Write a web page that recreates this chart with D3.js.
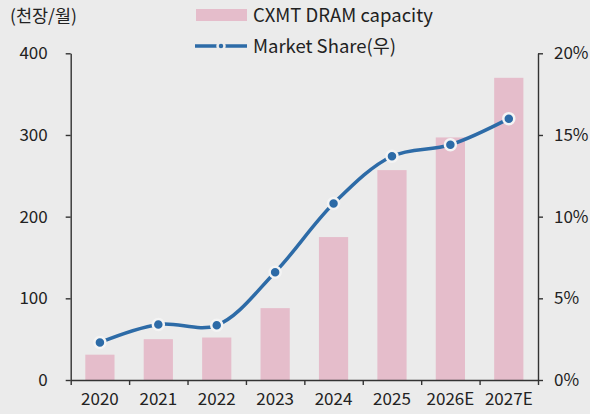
<!DOCTYPE html>
<html>
<head>
<meta charset="utf-8">
<script src="https://cdn.jsdelivr.net/npm/d3@7"></script>
<style>
	body { margin: 0; background: #ebebeb; }
	svg { display: block; font-family: "Noto Sans CJK KR", "Noto Sans", sans-serif; }
</style>
</head>
<body>
<div id="chart"></div>
<script>
const years = ['2020', '2021', '2022', '2023', '2024', '2025', '2026E', '2027E'];
const capacity = [31, 50, 52, 88, 175, 257, 297, 370];
const marketShare = [2.3, 3.4, 3.35, 6.6, 10.8, 13.7, 14.4, 16.0];
const leftTicks = [0, 100, 200, 300, 400];
const rightTicks = [0, 5, 10, 15, 20];

const widthSvg = 590;
const heightSvg = 414;
const margin = {top: 53.3, right: 52, bottom: 34, left: 70.7};
const barColor = '#e5bdcb';
const lineColor = '#2d6ba7';
const axisColor = '#333';

const svg = d3.select('#chart').append('svg')
	.attr('width', widthSvg)
	.attr('height', heightSvg);

const xScale = d3.scaleBand()
	.domain(years)
	.range([margin.left, widthSvg - margin.right])
	.paddingInner(0.5)
	.paddingOuter(0.25);

const edgeScale = d3.scaleLinear()
	.domain([0, years.length])
	.range([margin.left, widthSvg - margin.right]);

const yScale = d3.scaleLinear()
	.domain([0, 400])
	.range([heightSvg - margin.bottom, margin.top]);

const y2Scale = d3.scaleLinear()
	.domain([0, 20])
	.range([heightSvg - margin.bottom, margin.top]);

// bars
svg.selectAll('rect.bar')
	.data(capacity)
	.enter().append('rect')
	.attr('class', 'bar')
	.attr('x', (d, i) => xScale(years[i]))
	.attr('width', xScale.bandwidth())
	.attr('y', d => yScale(d))
	.attr('height', d => yScale(0) - yScale(d))
	.style('fill', barColor);

// axes
const styleAxis = g => {
	g.selectAll('path, line').attr('stroke', axisColor).attr('stroke-width', 1.4);
	g.selectAll('text').attr('fill', '#222').style('font-size', '17px').style('font-family', '"Noto Sans CJK KR", "Noto Sans", sans-serif');
};

svg.append('g')
	.attr('transform', `translate(${margin.left},0)`)
	.call(d3.axisLeft(yScale).tickValues(leftTicks).tickSize(5).tickSizeOuter(0).tickPadding(18))
	.call(styleAxis);

svg.append('g')
	.attr('transform', `translate(${widthSvg - margin.right},0)`)
	.call(d3.axisRight(y2Scale).tickValues(rightTicks).tickSize(5).tickSizeOuter(0).tickPadding(11)
		.tickFormat(d => d + '%'))
	.call(styleAxis);

svg.append('g')
	.attr('transform', `translate(0,${heightSvg - margin.bottom})`)
	.call(d3.axisBottom(edgeScale).ticks(years.length).tickSize(5).tickSizeOuter(0).tickFormat(''))
	.call(styleAxis);

svg.append('g')
	.attr('transform', `translate(0,${heightSvg - margin.bottom})`)
	.call(d3.axisBottom(xScale).tickSize(0).tickPadding(13))
	.call(g => g.select('.domain').remove())
	.call(styleAxis);

// market share line
const line = d3.line()
	.x((d, i) => xScale(years[i]) + xScale.bandwidth() / 2)
	.y(d => y2Scale(d))
	.curve(d3.curveCatmullRom.alpha(0.5));

svg.append('path')
	.datum(marketShare)
	.attr('d', line)
	.attr('fill', 'none')
	.attr('stroke', lineColor)
	.attr('stroke-width', 3.5);

svg.selectAll('circle.pt')
	.data(marketShare)
	.enter().append('circle')
	.attr('class', 'pt')
	.attr('cx', (d, i) => xScale(years[i]) + xScale.bandwidth() / 2)
	.attr('cy', d => y2Scale(d))
	.attr('r', 5.5)
	.attr('fill', lineColor)
	.attr('stroke', '#f4f4f4')
	.attr('stroke-width', 2.5);

// unit label
svg.append('text')
	.attr('x', 10)
	.attr('y', 22)
	.style('font-size', '17.5px')
	.attr('fill', '#222')
	.text('(천장/월)');

// legend
const legend = svg.append('g');
legend.append('rect')
	.attr('x', 196).attr('y', 9)
	.attr('width', 51).attr('height', 12)
	.style('fill', barColor);
legend.append('text')
	.attr('x', 253).attr('y', 22)
	.style('font-size', '18.5px')
	.attr('fill', '#222')
	.text('CXMT DRAM capacity');
legend.append('line')
	.attr('x1', 195).attr('x2', 247)
	.attr('y1', 46).attr('y2', 46)
	.attr('stroke', lineColor)
	.attr('stroke-width', 3.5);
legend.append('circle')
	.attr('cx', 221).attr('cy', 46).attr('r', 3.5)
	.attr('fill', lineColor)
	.attr('stroke', '#ebebeb')
	.attr('stroke-width', 2.5);
legend.append('text')
	.attr('x', 253).attr('y', 52.5)
	.style('font-size', '18.5px')
	.attr('fill', '#222')
	.text('Market Share(우)');
</script>
</body>
</html>
